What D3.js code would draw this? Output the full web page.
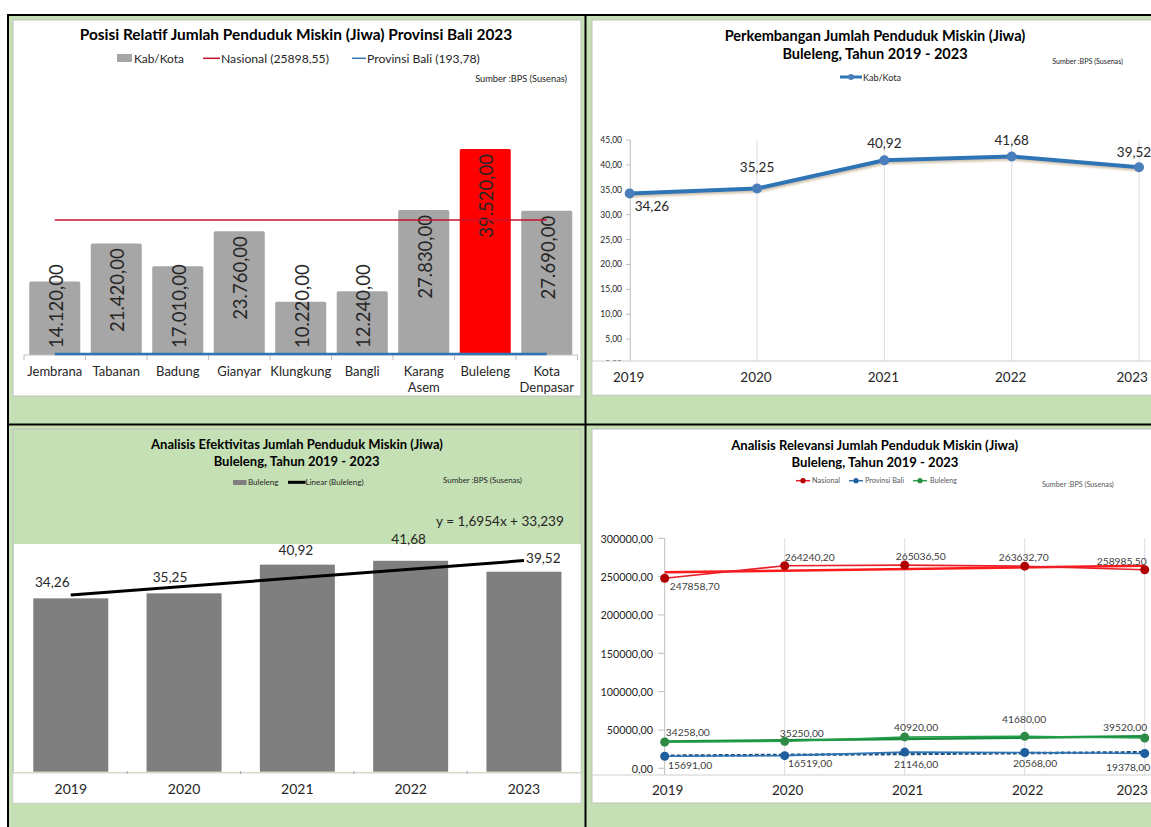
<!DOCTYPE html>
<html>
<head>
<meta charset="utf-8">
<script src="https://d3js.org/d3.v7.min.js"></script>
<style>
  body { margin: 0; background: #fff; }
  svg text { font-family: Lato, "Open Sans", sans-serif; fill: #262626; }
</style>
</head>
<body>
<div id="chart"></div>
<script>
'use strict';

// ---- data ----
const kabKota = ["Jembrana", "Tabanan", "Badung", "Gianyar", "Klungkung", "Bangli", "Karang Asem", "Buleleng", "Kota Denpasar"];
const miskin2023 = [14120, 21420, 17010, 23760, 10220, 12240, 27830, 39520, 27690];
const garisNasional = 25898.55;
const garisProvinsi = 193.78;

const tahun = ["2019", "2020", "2021", "2022", "2023"];
const bulelengRibu = [34.26, 35.25, 40.92, 41.68, 39.52];

// trendline shown in the "Efektivitas" chart
const trendSlope = 1.6954;
const trendIntercept = 33.239;
const trendText = "y = 1,6954x + 33,239";

const nasional = [247858.70, 264240.20, 265036.50, 263632.70, 258985.50];
const provinsiBali = [15691, 16519, 21146, 20568, 19378];
const bulelengJiwa = [34258, 35250, 40920, 41680, 39520];

const sumber = "Sumber :BPS (Susenas)";

// Indonesian number format
const idLocale = d3.formatLocale({decimal: ",", thousands: ".", grouping: [3], currency: ["Rp", ""]});
const fmtRibu = idLocale.format(",.2f");
const fmt2 = idLocale.format(".2f");

const GREEN = "#c5e0b4";
const RIGHT_EDGE = 1148;

const svg = d3.select("#chart").append("svg")
    .attr("width", 1151)
    .attr("height", 827);

const defs = svg.append("defs");
defs.append("filter").attr("id", "shadow")
    .attr("x", "-5%").attr("y", "-20%").attr("width", "110%").attr("height", "140%")
    .append("feDropShadow")
    .attr("dx", 1).attr("dy", 2).attr("stdDeviation", 1)
    .attr("flood-color", "#9a7a40").attr("flood-opacity", 0.45);

function text(g, x, y, str, size, anchor){
    return g.append("text")
        .attr("x", x)
        .attr("y", y)
        .attr("font-size", size)
        .attr("text-anchor", anchor || "start")
        .attr("dominant-baseline", "central")
        .text(str);
}

// scale the font so the text spans the width measured on the reference
function fit(t, w){
    const len = t.node().getComputedTextLength();
    if(len > 0){
        t.attr("font-size", +t.attr("font-size") * w / len);
    }
    return t;
}

// centred text that is nudged left when it would run past the panel edge (Excel does the same)
function keepInside(t){
    const b = t.node().getBBox();
    if(b.x + b.width > RIGHT_EDGE){
        t.attr("x", +t.attr("x") - (b.x + b.width - RIGHT_EDGE));
    }
    return t;
}

// least squares line for x = 1..n, like an Excel linear trendline
function linReg(vals){
    const n = vals.length;
    const xs = d3.range(1, n + 1);
    const mx = d3.mean(xs), my = d3.mean(vals);
    let sxy = 0, sxx = 0;
    xs.forEach((x, i) => { sxy += (x - mx) * (vals[i] - my); sxx += (x - mx) ** 2; });
    const b = sxy / sxx;
    return {a: my - b * mx, b: b};
}

function box(g, x, y, w, h, fill){
    return g.append("rect")
        .attr("x", x).attr("y", y)
        .attr("width", w).attr("height", h)
        .attr("fill", fill)
        .attr("stroke", "#bfbfbf");
}

// ---------- background and frame ----------
svg.append("rect").attr("x", 8).attr("y", 15).attr("width", 1143).attr("height", 812).attr("fill", GREEN);

// ---------- top left: Posisi Relatif ----------
function drawPosisi(root){
    const g = root.append("g");
    box(g, 13, 20, 568, 376, "#fff");

    fit(text(g, 296, 34, "Posisi Relatif Jumlah Penduduk Miskin (Jiwa) Provinsi Bali 2023", 15, "middle")
        .attr("font-weight", "bold").style("fill", "#000"), 433);

    // legend
    g.append("rect").attr("x", 117).attr("y", 54).attr("width", 15).attr("height", 8).attr("fill", "#a6a6a6");
    fit(text(g, 134, 58.3, "Kab/Kota", 11), 50);
    g.append("line").attr("x1", 203).attr("x2", 220).attr("y1", 58.3).attr("y2", 58.3)
        .attr("stroke", "#c8102e").attr("stroke-width", 1.5);
    fit(text(g, 221, 58.3, "Nasional (" + fmt2(garisNasional) + ")", 11), 108);
    g.append("line").attr("x1", 352).attr("x2", 366).attr("y1", 58.3).attr("y2", 58.3)
        .attr("stroke", "#2e75b6").attr("stroke-width", 1.5);
    fit(text(g, 367, 58.3, "Provinsi Bali (" + fmt2(garisProvinsi) + ")", 11), 113);
    fit(text(g, 567, 78.7, sumber, 8, "end"), 92);

    const x = d3.scaleBand().domain(kabKota).range([24, 577.5]).paddingInner(0.17).paddingOuter(0.085);
    const y = d3.scaleLinear().domain([0, 45000]).range([355, 120.5]);
    const bw = x.bandwidth();

    g.selectAll("rect.bar").data(kabKota).join("rect")
        .attr("class", "bar")
        .attr("x", d => x(d))
        .attr("y", (d, i) => y(miskin2023[i]))
        .attr("width", bw)
        .attr("height", (d, i) => y(0) - y(miskin2023[i]))
        .attr("rx", 1.5)
        .attr("fill", d => d === "Buleleng" ? "#ff0000" : "#a6a6a6");

    // rotated value labels, "inside end", pushed up from the axis when the bar is short
    kabKota.forEach((d, i) => {
        const cx = x(d) + bw / 2 + 1;
        const t = g.append("text")
            .attr("font-size", 18.5)
            .attr("dominant-baseline", "central")
            .attr("text-anchor", "start")
            .text(fmtRibu(miskin2023[i]));
        const len = t.node().getComputedTextLength();
        const y0 = Math.min(y(miskin2023[i]) + 5 + len, 348);
        t.attr("transform", `translate(${cx},${y0}) rotate(-90)`);
    });

    // category axis
    g.append("line").attr("x1", 24).attr("x2", 577.5).attr("y1", 355).attr("y2", 355)
        .attr("stroke", "#bfbfbf");
    g.selectAll("line.tick").data(d3.range(kabKota.length + 1)).join("line")
        .attr("class", "tick")
        .attr("x1", i => 24 + i * x.step()).attr("x2", i => 24 + i * x.step())
        .attr("y1", 355).attr("y2", 360)
        .attr("stroke", "#bfbfbf");

    const first = x(kabKota[0]) + bw / 2;
    const last = x(kabKota[kabKota.length - 1]) + bw / 2;
    g.append("line").attr("x1", first).attr("x2", last)
        .attr("y1", y(garisNasional)).attr("y2", y(garisNasional))
        .attr("stroke", "#c8102e").attr("stroke-width", 1.5);
    g.append("line").attr("x1", first).attr("x2", last)
        .attr("y1", y(garisProvinsi)).attr("y2", y(garisProvinsi))
        .attr("stroke", "#2e75b6").attr("stroke-width", 2.5);

    kabKota.forEach(d => {
        const t = g.append("text")
            .attr("font-size", 13)
            .attr("text-anchor", "middle");
        d.split(" ").forEach((w, j) => {
            t.append("tspan")
                .attr("x", x(d) + bw / 2)
                .attr("y", 376 + j * 16)
                .text(w);
        });
    });
}

// ---------- top right: Perkembangan ----------
function drawPerkembangan(root){
    const g = root.append("g");
    box(g, 592, 20, 570, 375, "#fff");

    const t1 = fit(text(g, 875, 35, "Perkembangan Jumlah Penduduk Miskin (Jiwa)", 14, "middle")
        .attr("font-weight", "bold").style("fill", "#000"), 301);
    text(g, 875, 53, "Buleleng, Tahun 2019 - 2023", t1.attr("font-size"), "middle")
        .attr("font-weight", "bold").style("fill", "#000");

    g.append("line").attr("x1", 840).attr("x2", 862).attr("y1", 77).attr("y2", 77)
        .attr("stroke", "#2e75b6").attr("stroke-width", 3);
    g.append("circle").attr("cx", 851).attr("cy", 77).attr("r", 3).attr("fill", "#4a7ebb");
    fit(text(g, 863, 77, "Kab/Kota", 7), 38);
    fit(text(g, 1123, 61, sumber, 7, "end"), 71);

    const x = d3.scalePoint().domain(tahun).range([629.7, 1139]);
    const y = d3.scaleLinear().domain([0, 45]).range([364, 140]);

    g.selectAll("line.grid").data(tahun.slice(1)).join("line")
        .attr("class", "grid")
        .attr("x1", d => x(d)).attr("x2", d => x(d))
        .attr("y1", 140).attr("y2", 361)
        .attr("stroke", "#d9dde6");

    g.append("line").attr("x1", 630.3).attr("x2", 630.3).attr("y1", 140).attr("y2", 364)
        .attr("stroke", "#bfbfbf");
    const ticks = d3.range(0, 46, 5);
    g.selectAll("line.tick").data(ticks).join("line")
        .attr("class", "tick")
        .attr("x1", 626).attr("x2", 630.3)
        .attr("y1", d => y(d)).attr("y2", d => y(d))
        .attr("stroke", "#bfbfbf");
    g.selectAll("text.tick").data(ticks).join("text")
        .attr("class", "tick")
        .attr("x", 622).attr("y", d => y(d))
        .attr("font-size", 8.5)
        .attr("text-anchor", "end")
        .attr("dominant-baseline", "central")
        .text(d => fmt2(d));

    const pts = tahun.map((t, i) => ({t: t, v: bulelengRibu[i]}));
    g.append("path")
        .datum(pts)
        .attr("d", d3.line().x(d => x(d.t)).y(d => y(d.v)))
        .attr("fill", "none")
        .attr("stroke", "#2e75b6")
        .attr("stroke-width", 4)
        .attr("stroke-linejoin", "round")
        .attr("filter", "url(#shadow)");
    g.selectAll("circle.pt").data(pts).join("circle")
        .attr("class", "pt")
        .attr("cx", d => x(d.t)).attr("cy", d => y(d.v))
        .attr("r", 5)
        .attr("fill", "#4a7ebb");

    // label offsets relative to each point
    const off = [[5, 13, "start"], [0, -22, "middle"], [0, -17, "middle"], [0, -17, "middle"], [-5, -15, "middle"]];
    pts.forEach((d, i) => {
        text(g, x(d.t) + off[i][0], y(d.v) + off[i][1], fmt2(d.v), 13.5, off[i][2]);
    });

    // category band covers the bottom of the plot
    g.append("rect").attr("x", 592).attr("y", 361).attr("width", 570).attr("height", 34)
        .attr("fill", "#fff").attr("stroke", "#d0d0d0");
    tahun.forEach(t => keepInside(text(g, x(t) - 1, 377, t, 13.5, "middle")));
}

// ---------- bottom left: Efektivitas ----------
function drawEfektivitas(root){
    const g = root.append("g");
    box(g, 13, 429, 568, 374, GREEN);

    const t1 = fit(text(g, 297, 444.3, "Analisis Efektivitas Jumlah Penduduk Miskin (Jiwa)", 12, "middle")
        .attr("font-weight", "bold").style("fill", "#000"), 292);
    text(g, 296.6, 460.7, "Buleleng, Tahun 2019 - 2023", t1.attr("font-size"), "middle")
        .attr("font-weight", "bold").style("fill", "#000");

    g.append("rect").attr("x", 233).attr("y", 480).attr("width", 13.5).attr("height", 5).attr("fill", "#7f7f7f");
    fit(text(g, 248, 482.3, "Buleleng", 6), 30.5);
    g.append("line").attr("x1", 288).attr("x2", 305.6).attr("y1", 482.3).attr("y2", 482.3)
        .attr("stroke", "#000").attr("stroke-width", 3);
    fit(text(g, 305.6, 482.3, "Linear (Buleleng)", 6), 58);
    fit(text(g, 443, 479.7, sumber, 6), 79);

    g.append("rect").attr("x", 14).attr("y", 544).attr("width", 566.7).attr("height", 228).attr("fill", "#fff");

    const x = d3.scaleBand().domain(tahun).range([14, 580.7]).paddingInner(0.338).paddingOuter(0.17);
    const y = d3.scaleLinear().domain([0, 45]).range([771.7, 544]);
    const bw = x.bandwidth();

    g.selectAll("rect.bar").data(tahun).join("rect")
        .attr("class", "bar")
        .attr("x", d => x(d))
        .attr("y", (d, i) => y(bulelengRibu[i]))
        .attr("width", bw)
        .attr("height", (d, i) => y(0) - y(bulelengRibu[i]))
        .attr("fill", "#7f7f7f");

    const n = tahun.length;
    g.append("line")
        .attr("x1", x(tahun[0]) + bw / 2).attr("y1", y(trendIntercept + trendSlope * 1))
        .attr("x2", x(tahun[n - 1]) + bw / 2).attr("y2", y(trendIntercept + trendSlope * n))
        .attr("stroke", "#000").attr("stroke-width", 3);

    const off = [[-18.5, -16.6], [-14, -16.6], [-1.5, -14.6], [-2, -21.8], [19.4, -13.4]];
    tahun.forEach((t, i) => {
        text(g, x(t) + bw / 2 + off[i][0], y(bulelengRibu[i]) + off[i][1], fmt2(bulelengRibu[i]), 13.6, "middle");
    });

    fit(text(g, 436, 521, trendText, 14), 128);

    g.append("rect").attr("x", 13).attr("y", 773).attr("width", 568).attr("height", 30)
        .attr("fill", "#fff").attr("stroke", "#d9d9d9");
    g.selectAll("line.tick").data(d3.range(1, n)).join("line")
        .attr("class", "tick")
        .attr("x1", i => 14 + i * x.step()).attr("x2", i => 14 + i * x.step())
        .attr("y1", 771).attr("y2", 774)
        .attr("stroke", "#a6a6a6");
    tahun.forEach(t => text(g, x(t) + bw / 2, 788.3, t, 14, "middle"));
}

// ---------- bottom right: Relevansi ----------
function drawRelevansi(root){
    const g = root.append("g");
    box(g, 592, 429, 570, 374, "#fff");

    const t1 = fit(text(g, 874.6, 445, "Analisis Relevansi Jumlah Penduduk Miskin (Jiwa)", 13, "middle")
        .attr("font-weight", "bold").style("fill", "#000"), 287);
    text(g, 875, 461.7, "Buleleng, Tahun 2019 - 2023", t1.attr("font-size"), "middle")
        .attr("font-weight", "bold").style("fill", "#000");

    const series = [
        {name: "Nasional", values: nasional, line: "#e8202a", trend: "#ff1a1a", marker: "#b00000", dash: null,
            lx: 796, tx: 812, tw: 28,
            off: [[5, 7.5], [0, -9], [-9, -9], [-26, -9], [-48, -9]]},
        {name: "Provinsi Bali", values: provinsiBali, line: "#2e75b6", trend: "#1f4e79", marker: "#1f5f9e", dash: "4,2",
            lx: 849, tx: 865, tw: 39,
            off: [[3.3, 8.7], [3.3, 7.7], [-10.7, 12], [-11.7, 10.8], [-38.7, 13.3]]},
        {name: "Buleleng", values: bulelengJiwa, line: "#22a04a", trend: "#178a3c", marker: "#2e8b45", dash: null,
            lx: 913, tx: 930, tw: 27,
            off: [[1, -10.3], [-5, -8.3], [-10.7, -9.6], [-22.7, -17], [-41.7, -11.3]]}
    ];

    series.forEach(s => {
        g.append("line").attr("x1", s.lx).attr("x2", s.lx + 14).attr("y1", 480.7).attr("y2", 480.7)
            .attr("stroke", s.line).attr("stroke-width", 1.5);
        g.append("circle").attr("cx", s.lx + 7).attr("cy", 480.7).attr("r", 2.6).attr("fill", s.marker);
        fit(text(g, s.tx, 480.7, s.name, 6).style("fill", "#595959"), s.tw);
    });
    fit(text(g, 1042, 484, sumber, 6).style("fill", "#595959"), 72);

    const x = d3.scalePoint().domain(tahun).range([664.7, 1144.7]);
    const y = d3.scaleLinear().domain([0, 300000]).range([768.3, 538.3]);

    g.selectAll("line.grid").data(tahun.slice(1)).join("line")
        .attr("class", "grid")
        .attr("x1", d => x(d)).attr("x2", d => x(d))
        .attr("y1", 538.3).attr("y2", 775)
        .attr("stroke", "#d9dde6");

    g.append("line").attr("x1", 664.7).attr("x2", 664.7).attr("y1", 538.3).attr("y2", 775)
        .attr("stroke", "#bfbfbf");
    const ticks = y.ticks(6);
    g.selectAll("line.tick").data(ticks).join("line")
        .attr("class", "tick")
        .attr("x1", 658).attr("x2", 664.7)
        .attr("y1", d => y(d)).attr("y2", d => y(d))
        .attr("stroke", "#bfbfbf");
    g.selectAll("text.tick").data(ticks).join("text")
        .attr("class", "tick")
        .attr("x", 653).attr("y", d => y(d))
        .attr("font-size", 10.8)
        .attr("text-anchor", "end")
        .attr("dominant-baseline", "central")
        .text(d => fmt2(d));

    g.append("line").attr("x1", 592).attr("x2", 1151).attr("y1", 775).attr("y2", 775)
        .attr("stroke", "#d0d0d0");

    const n = tahun.length;
    series.forEach(s => {
        const r = linReg(s.values);
        g.append("line")
            .attr("x1", x(tahun[0])).attr("y1", y(r.a + r.b * 1))
            .attr("x2", x(tahun[n - 1])).attr("y2", y(r.a + r.b * n))
            .attr("stroke", s.trend).attr("stroke-width", 2.5)
            .attr("stroke-dasharray", s.dash);
    });

    series.forEach(s => {
        const pts = tahun.map((t, i) => ({t: t, v: s.values[i]}));
        g.append("path")
            .datum(pts)
            .attr("d", d3.line().x(d => x(d.t)).y(d => y(d.v)))
            .attr("fill", "none")
            .attr("stroke", s.line)
            .attr("stroke-width", 1.6);
        g.selectAll(null).data(pts).join("circle")
            .attr("cx", d => x(d.t)).attr("cy", d => y(d.v))
            .attr("r", 4.5)
            .attr("fill", s.marker);
        pts.forEach((d, i) => {
            text(g, x(d.t) + s.off[i][0], y(d.v) + s.off[i][1], fmt2(d.v), 10.3).style("fill", "#404040");
        });
    });

    tahun.forEach(t => keepInside(text(g, x(t) + 3, 790, t, 13.5, "middle")));
}

drawPosisi(svg);
drawPerkembangan(svg);
drawEfektivitas(svg);
drawRelevansi(svg);

// black frame lines between the panels
const frame = svg.append("g").attr("fill", "#000");
frame.append("rect").attr("x", 7).attr("y", 14).attr("width", 1144).attr("height", 2);
frame.append("rect").attr("x", 7).attr("y", 14).attr("width", 2).attr("height", 813);
frame.append("rect").attr("x", 584.5).attr("y", 14).attr("width", 2).attr("height", 813);
frame.append("rect").attr("x", 7).attr("y", 423.5).attr("width", 1144).attr("height", 2);
</script>
</body>
</html>
